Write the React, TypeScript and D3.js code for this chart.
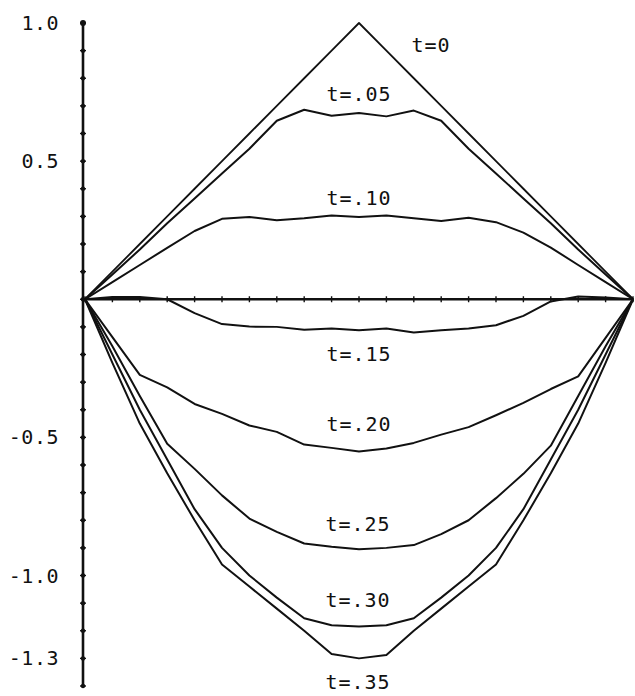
import React from "react";
import * as d3 from "d3";

// Grid of the string positions (x from 0 to 1 in steps of .05)
const gridX = [0, 0.05, 0.1, 0.15, 0.2, 0.25, 0.3, 0.35, 0.4, 0.45, 0.5, 0.55, 0.6, 0.65, 0.7, 0.75, 0.8, 0.85, 0.9, 0.95, 1.0];

// Displacement u(x, t) at each grid point for successive times
const u00 = [0, 0.1, 0.2, 0.3, 0.4, 0.5, 0.6, 0.7, 0.8, 0.9, 1.0, 0.9, 0.8, 0.7, 0.6, 0.5, 0.4, 0.3, 0.2, 0.1, 0];
const u05 = [0, 0.09, 0.18, 0.275, 0.365, 0.455, 0.545, 0.646, 0.686, 0.664, 0.674, 0.662, 0.683, 0.646, 0.545, 0.455, 0.365, 0.275, 0.18, 0.09, 0];
const u10 = [0, 0.062, 0.124, 0.186, 0.247, 0.291, 0.298, 0.286, 0.293, 0.303, 0.298, 0.303, 0.293, 0.283, 0.295, 0.279, 0.241, 0.187, 0.124, 0.062, 0];
const u15 = [0, 0.008, 0.008, 0, -0.05, -0.09, -0.099, -0.1, -0.11, -0.106, -0.112, -0.106, -0.12, -0.112, -0.106, -0.094, -0.06, -0.008, 0.01, 0.006, 0];
const u20 = [0, -0.137, -0.274, -0.319, -0.379, -0.415, -0.457, -0.48, -0.526, -0.538, -0.551, -0.54, -0.52, -0.49, -0.463, -0.42, -0.375, -0.325, -0.279, -0.14, 0];
const u25 = [0, -0.17, -0.35, -0.523, -0.614, -0.71, -0.794, -0.842, -0.884, -0.896, -0.905, -0.9, -0.89, -0.85, -0.8, -0.72, -0.632, -0.53, -0.35, -0.17, 0];
const u30 = [0, -0.2, -0.4, -0.58, -0.76, -0.9, -1.0, -1.08, -1.155, -1.18, -1.185, -1.18, -1.155, -1.08, -1.0, -0.9, -0.76, -0.58, -0.4, -0.2, 0];
const u35 = [0, -0.23, -0.45, -0.63, -0.8, -0.96, -1.04, -1.12, -1.2, -1.284, -1.3, -1.288, -1.2, -1.12, -1.04, -0.96, -0.8, -0.63, -0.45, -0.23, 0];

const seriesValues = [u00, u05, u10, u15, u20, u25, u30, u35];
const seriesLabels = ["t=0", "t=.05", "t=.10", "t=.15", "t=.20", "t=.25", "t=.30", "t=.35"];

// Vertical axis
const yTickValues = [1.0, 0.9, 0.8, 0.7, 0.6, 0.5, 0.4, 0.3, 0.2, 0.1, 0, -0.1, -0.2, -0.3, -0.4, -0.5, -0.6, -0.7, -0.8, -0.9, -1.0, -1.1, -1.2, -1.3, -1.4];
const yLabelValues = [1.0, 0.5, -0.5, -1.0, -1.3];
const yLabelTexts = ["1.0", "0.5", "-0.5", "-1.0", "-1.3"];

const W = 635;
const H = 696;
const FONT = "'DejaVu Sans Mono', 'Liberation Mono', monospace";

// Label placement: [x, baseline y]
const labelPos: [number, number][] = [
  [431, 52],
  [359, 101],
  [359, 205],
  [359, 361],
  [359, 431],
  [358, 531],
  [358, 607],
  [358, 689],
];

export default function App() {
  const x = d3.scaleLinear().domain([0, 1]).range([85, 633]);
  const y = d3.scaleLinear().domain([-1.4, 1.0]).range([686, 23]);
  const axisX = 83;

  const line = d3
    .line<number>()
    .x((_, i) => x(gridX[i]))
    .y((d) => y(d));

  return (
    <svg
      width={W}
      height={H}
      viewBox={`0 0 ${W} ${H}`}
      style={{ position: "absolute", left: 0, top: 0, background: "#fff" }}
    >
      <rect x={0} y={0} width={W} height={H} fill="#fff" />

      {/* horizontal axis */}
      <line x1={x(0)} x2={x(1)} y1={y(0)} y2={y(0)} stroke="#111" strokeWidth={2.6} />
      {gridX.map((g, i) => (
        <line key={"xt" + i} x1={x(g)} x2={x(g)} y1={y(0) - 3} y2={y(0) + 3} stroke="#111" strokeWidth={1.4} />
      ))}

      {/* vertical axis */}
      <line x1={axisX} x2={axisX} y1={y(1.0)} y2={y(-1.4)} stroke="#111" strokeWidth={2.6} />
      {yTickValues.map((v, i) => (
        <g key={"yt" + i}>
          <line x1={axisX - 3} x2={axisX + 3} y1={y(v)} y2={y(v)} stroke="#111" strokeWidth={1.4} />
          <circle cx={axisX} cy={y(v)} r={2.2} fill="#111" />
        </g>
      ))}
      <circle cx={axisX} cy={y(1.0)} r={3} fill="#111" />
      {yLabelValues.map((v, i) => (
        <text
          key={"yl" + i}
          x={59}
          y={y(v) + 7}
          textAnchor="end"
          fontFamily={FONT}
          fontSize={20}
          letterSpacing={0.5}
          fill="#111"
        >
          {yLabelTexts[i]}
        </text>
      ))}

      {/* curves */}
      {seriesValues.map((vals, i) => (
        <path key={"c" + i} d={line(vals) || ""} fill="none" stroke="#111" strokeWidth={i === 0 ? 1.8 : 2} strokeLinejoin="round" />
      ))}

      {/* curve labels */}
      {seriesLabels.map((s, i) => (
        <text
          key={"l" + i}
          x={labelPos[i][0]}
          y={labelPos[i][1]}
          textAnchor="middle"
          fontFamily={FONT}
          fontSize={20}
          letterSpacing={1}
          fill="#111"
        >
          {s}
        </text>
      ))}
    </svg>
  );
}
